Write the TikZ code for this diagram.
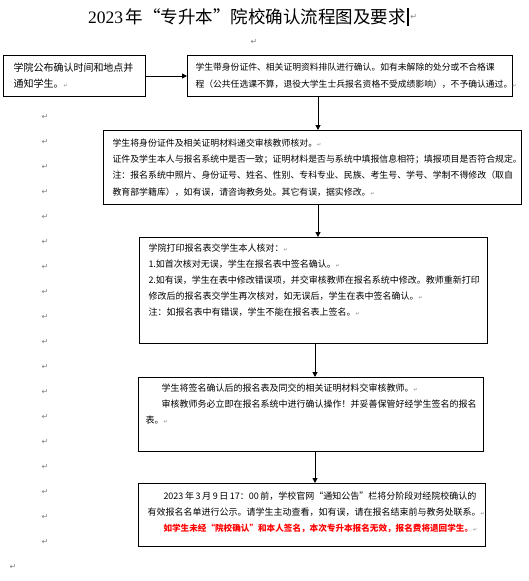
\documentclass[tikz,border=0pt]{standalone}
\usepackage{fontspec}
\setmainfont{Liberation Serif}
\newfontfamily\cjk{Noto Sans CJK SC}
\newfontfamily\symfont{DejaVu Sans}
\usetikzlibrary{arrows.meta}

\newcommand{\parmark}{{\symfont\fontsize{5}{5}\selectfont\textcolor{gray}{↵}}}
\newcommand{\ind}{\hspace*{16pt}}

\tikzset{
  box/.style={draw, line width=1pt, anchor=north west, inner xsep=9pt, inner ysep=0pt,
    font=\cjk\fontsize{9}{16}\selectfont},
  arr/.style={-{Triangle[length=5pt,width=5pt]}, line width=1pt},
  retmark/.style={text=gray, font=\symfont\fontsize{8}{8}\selectfont, inner sep=0pt},
}

\begin{document}
\begin{tikzpicture}[x=1pt, y=-1pt]
\useasboundingbox (0,0) rectangle (529,581);

% title line
\node[font=\fontsize{17.5}{20}\selectfont, inner sep=1pt] (title) at (247,17)
  {2023\,{\cjk 年“专升本”院校确认流程图及要求}};
\draw[line width=1.5pt] ([xshift=1pt]title.north east) -- ([xshift=1pt]title.south east);
\node[retmark, anchor=west] (tret) at ([xshift=3pt]title.east) {↵};
\node[retmark] (tmark) at (254,42) {↵};

% paragraph marks down the left side
\foreach \k in {0,...,17}
  \node[retmark] (lm\k) at (45,{117+25*\k}) {↵};
\node[retmark] (lmend) at (13,567) {↵};

% step 1: notice
\node[box, inner xsep=10pt, font=\cjk\fontsize{10}{16}\selectfont] (bA) at (3,55)
  {\parbox[c][41pt][c]{122pt}{学院公布确认时间和地点并\\通知学生。\parmark}};

% step 2: queue
\node[box, inner xsep=8pt, font=\cjk\fontsize{8.8}{17}\selectfont] (bB) at (187,55)
  {\parbox[c][41pt][c]{309pt}{学生带身份证件、相关证明资料排队进行确认。如有未解除的处分或不合格课\\
  程（公共任选课不算，退役大学生士兵报名资格不受成绩影响），不予确认通过。\parmark}};

% step 3: check documents
\node[box, font=\cjk\fontsize{8.9}{16.3}\selectfont] (bC) at (103,130)
  {\parbox[c][74pt][c]{400pt}{学生将身份证件及相关证明材料递交审核教师核对。\parmark\\
  证件及学生本人与报名系统中是否一致；证明材料是否与系统中填报信息相符；填报项目是否符合规定。\\
  注：报名系统中照片、身份证号、姓名、性别、专科专业、民族、考生号、学号、学制不得修改（取自\\
  教育部学籍库），如有误，请咨询教务处。其它有误，据实修改。\parmark}};

% step 4: print form
\node[box, inner ysep=6pt] (bD) at (139,237)
  {\parbox[c][94pt][t]{330pt}{学院打印报名表交学生本人核对：\parmark\\
  1.如首次核对无误，学生在报名表中签名确认。\parmark\\
  2.如有误，学生在表中修改错误项，并交审核教师在报名系统中修改。教师重新打印\\
  修改后的报名表交学生再次核对，如无误后，学生在表中签名确认。\parmark\\
  注：如报名表中有错误，学生不能在报名表上签名。\parmark}};

% step 5: hand in
\node[box, inner xsep=7pt, inner ysep=6.5pt] (bE) at (138,377)
  {\parbox[c][61pt][t]{331pt}{\ind 学生将签名确认后的报名表及同交的相关证明材料交审核教师。\parmark\\
  \ind 审核教师务必立即在报名系统中进行确认操作！并妥善保管好经学生签名的报名\\
  表。\parmark}};

% step 6: publish
\node[box, inner ysep=8pt] (bF) at (138,483)
  {\parbox[c][47pt][t]{329pt}{\ind 2023 年 3 月 9 日 17：00 前，学校官网“通知公告”栏将分阶段对经院校确认的\\
  有效报名名单进行公示。请学生主动查看，如有误，请在报名结束前与教务处联系。\parmark\\
  \ind{\color{red}\bfseries\fontsize{8.6}{16}\selectfont 如学生未经“院校确认”和本人签名，本次专升本报名无效，报名费将退回学生。}\parmark}};

% connectors
\coordinate (colA) at (318,0);
\coordinate (colB) at (315,0);
\draw[arr] (bA) -- (bB);
\draw[arr] (bB.south -| colA) -- (bC.north -| colA);
\draw[arr] (bC.south -| colA) -- (bD.north -| colA);
\draw[arr] (bD.south -| colB) -- (bE.north -| colB);
\draw[arr] (bE.south -| colB) -- (bF.north -| colB);

\end{tikzpicture}
\end{document}
